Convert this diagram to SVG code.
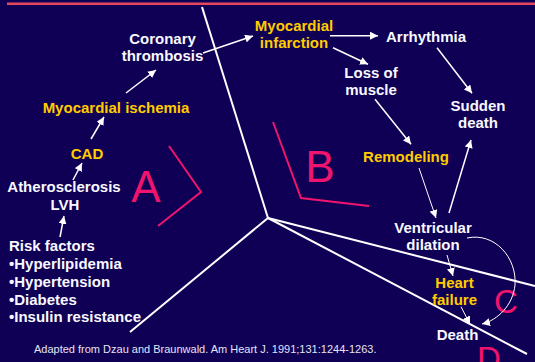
<svg xmlns="http://www.w3.org/2000/svg" width="535" height="362" viewBox="0 0 535 362">
<defs>
<style>
.t{font-family:"Liberation Sans",Arial,sans-serif;font-weight:bold;font-size:15px;text-anchor:middle;fill:#f8f8ff}
.y{fill:#ffcc00}
.l{text-anchor:start}
.big{font-family:"Liberation Sans",Arial,sans-serif;font-size:44px;fill:#f0146e;text-anchor:middle}
.mid{font-family:"Liberation Sans",Arial,sans-serif;font-size:33px;fill:#f0146e;text-anchor:middle}
.ref{font-family:"Liberation Sans",Arial,sans-serif;font-size:11px;fill:#e4e4f4}
.ax{stroke:#ffffff;stroke-width:2;fill:none}
.br{stroke:#f0146e;stroke-width:2;fill:none}
.a{stroke:#ffffff;stroke-width:1.5;fill:none;marker-end:url(#h)}
.a1{stroke:#ffffff;stroke-width:1;fill:none;marker-end:url(#h)}
</style>
<marker id="h" markerUnits="userSpaceOnUse" markerWidth="9" markerHeight="8" refX="8" refY="4" orient="auto">
<path d="M0,0 L8,4 L0,8 Z" fill="#ffffff"/>
</marker>
</defs>
<rect width="535" height="362" fill="#0f0055"/>
<line x1="7" y1="3.7" x2="535" y2="3.7" stroke="#e8465e" stroke-width="2.5"/>
<g id="axes">
<line class="ax" x1="202" y1="7" x2="268" y2="218"/>
<line class="ax" x1="268" y1="218" x2="130" y2="332"/>
<line class="ax" x1="268" y1="218" x2="535" y2="286"/>
<line class="ax" x1="268" y1="218" x2="527" y2="354"/>
</g>
<g id="brackets">
<polyline class="br" points="169,146 201,192 158,226"/>
<polyline class="br" points="273,122 301,198 369,206"/>
<text class="big" x="146" y="202">A</text>
<text class="big" x="320" y="182">B</text>
<text class="mid" x="506" y="313">C</text>
<text class="mid" x="489" y="370">D</text>
</g>
<g id="connectors">
<line class="a" x1="60" y1="237" x2="64" y2="216"/>
<line class="a" x1="73" y1="180" x2="82" y2="163"/>
<line class="a" x1="91" y1="139" x2="104" y2="117"/>
<line class="a" x1="126" y1="93" x2="156" y2="70"/>
<line class="a" x1="203" y1="53" x2="253" y2="36"/>
<line class="a" x1="330" y1="35.7" x2="378" y2="35.7"/>
<line class="a" x1="333" y1="47.7" x2="368" y2="64.3"/>
<line class="a" x1="375" y1="99.3" x2="411" y2="144.3"/>
<line class="a" x1="437" y1="47.7" x2="472" y2="93.3"/>
<line class="a" x1="449" y1="213" x2="471" y2="140"/>
<line class="a1" x1="419" y1="168" x2="436" y2="218"/>
<line class="a1" x1="447" y1="255" x2="453" y2="276"/>
<line class="a1" x1="461" y1="306.7" x2="470" y2="324.3"/>
<path class="a1" d="M467,238 C495,232 517,258 515,285 C513,305 498,320 482,324"/>
</g>
<g id="n-risk"><text class="t l" x="9" y="251">Risk factors</text><text class="t l" x="9" y="269">•Hyperlipidemia</text><text class="t l" x="9" y="287">•Hypertension</text><text class="t l" x="9" y="304.5">•Diabetes</text><text class="t l" x="9" y="322">•Insulin resistance</text></g>
<g id="n-athero"><text class="t" x="64" y="192">Atherosclerosis</text><text class="t" x="65" y="210">LVH</text></g>
<g id="n-cad"><text class="t y" x="87" y="159">CAD</text></g>
<g id="n-ischemia"><text class="t y" x="116" y="113">Myocardial ischemia</text></g>
<g id="n-thrombosis"><text class="t" x="162.5" y="44">Coronary</text><text class="t" x="162.5" y="61">thrombosis</text></g>
<g id="n-mi"><text class="t y" x="294" y="30.7">Myocardial</text><text class="t y" x="294" y="48.3">infarction</text></g>
<g id="n-arrhythmia"><text class="t" x="426" y="41.7">Arrhythmia</text></g>
<g id="n-loss"><text class="t" x="371" y="77.7">Loss of</text><text class="t" x="371" y="95">muscle</text></g>
<g id="n-sudden"><text class="t" x="478" y="110.7">Sudden</text><text class="t" x="478" y="128.3">death</text></g>
<g id="n-remodeling"><text class="t y" x="406" y="162.3">Remodeling</text></g>
<g id="n-dilation"><text class="t" x="433" y="232.7">Ventricular</text><text class="t" x="433" y="250">dilation</text></g>
<g id="n-hf"><text class="t y" x="454.5" y="287.7">Heart</text><text class="t y" x="454.5" y="305">failure</text></g>
<g id="n-death"><text class="t" x="457.5" y="340">Death</text></g>
<text class="ref" x="34" y="352.7">Adapted from Dzau and Braunwald. Am Heart J. 1991;131:1244-1263.</text>
</svg>
